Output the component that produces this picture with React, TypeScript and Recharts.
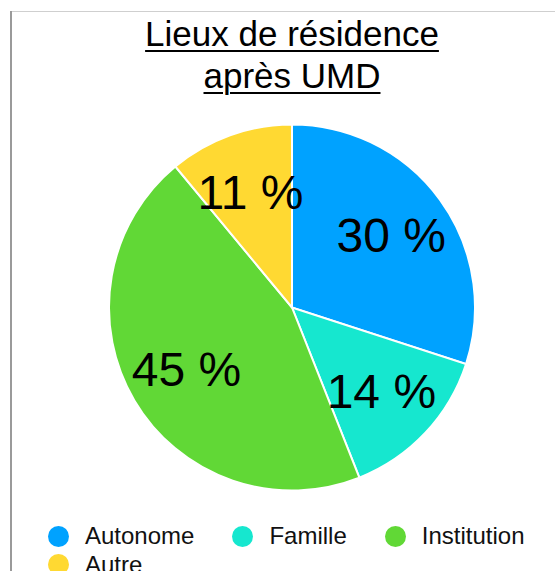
import React from "react";
import { PieChart, Pie, Cell, Legend } from "recharts";

const categories = ["Autonome", "Famille", "Institution", "Autre"];
const values = [30, 14, 45, 11];
const colors = ["#00A2FF", "#16E7CF", "#61D836", "#FFD932"];
const titleLines = ["Lieux de résidence", "après UMD"];

const data = categories.map((name, i) => ({ name, value: values[i] }));

const FONT = "'Liberation Sans', Arial, Helvetica, sans-serif";
const RAD = Math.PI / 180;

const renderLabel = (props: any) => {
  const { cx, cy, midAngle, outerRadius, value } = props;
  const r = outerRadius * 0.67;
  const x = cx + r * Math.cos(-midAngle * RAD);
  const y = cy + r * Math.sin(-midAngle * RAD);
  return (
    <text
      x={x}
      y={y}
      fill="#000"
      textAnchor="middle"
      dominantBaseline="central"
      style={{ fontFamily: FONT, fontSize: 48 }}
    >
      {`${value} %`}
    </text>
  );
};

const renderLegend = () => {
  return (
    <div
      style={{
        display: "flex",
        flexWrap: "wrap",
        columnGap: 38,
        rowGap: 0,
        fontFamily: FONT,
        fontSize: 24,
        color: "#111",
        lineHeight: "28.5px",
      }}
    >
      {categories.map((name, i) => (
        <div key={name} style={{ display: "flex", alignItems: "center" }}>
          <span
            style={{
              display: "inline-block",
              width: 21,
              height: 21,
              borderRadius: "50%",
              background: colors[i],
              marginRight: 16,
            }}
          />
          <span>{name}</span>
        </div>
      ))}
    </div>
  );
};

export default function App() {
  return (
    <div style={{ position: "absolute", left: 0, top: 0, width: 555, height: 571, background: "#fff", overflow: "hidden" }}>
      <div style={{ position: "absolute", left: 10, top: 11, width: 2, height: 560, background: "#9a9a9a" }} />
      <div style={{ position: "absolute", left: 12, top: 11, width: 543, height: 1, background: "#cfcfcf" }} />
      <div
        style={{
          position: "absolute",
          left: 0,
          top: 13,
          width: 584,
          textAlign: "center",
          fontFamily: FONT,
          fontSize: 35,
          lineHeight: "42px",
          color: "#000",
          textDecoration: "underline",
          textDecorationThickness: 2,
          textUnderlineOffset: 4,
        }}
      >
        {titleLines.map((t, i) => (
          <div key={i}>{t}</div>
        ))}
      </div>
      <div style={{ position: "absolute", left: 0, top: 0 }}>
        <PieChart width={555} height={571} margin={{ top: 0, right: 0, bottom: 0, left: 0 }}>
          <Pie
            data={data}
            dataKey="value"
            nameKey="name"
            cx={292}
            cy={307.5}
            outerRadius={183}
            startAngle={90}
            endAngle={-270}
            stroke="#fff"
            strokeWidth={2}
            label={renderLabel}
            labelLine={false}
            isAnimationActive={false}
          >
            {data.map((d, i) => (
              <Cell key={d.name} fill={colors[i]} />
            ))}
          </Pie>
          <Legend
            content={renderLegend}
            wrapperStyle={{ position: "absolute", left: 48, top: 522, width: 507, bottom: "auto" }}
          />
        </PieChart>
      </div>
    </div>
  );
}
